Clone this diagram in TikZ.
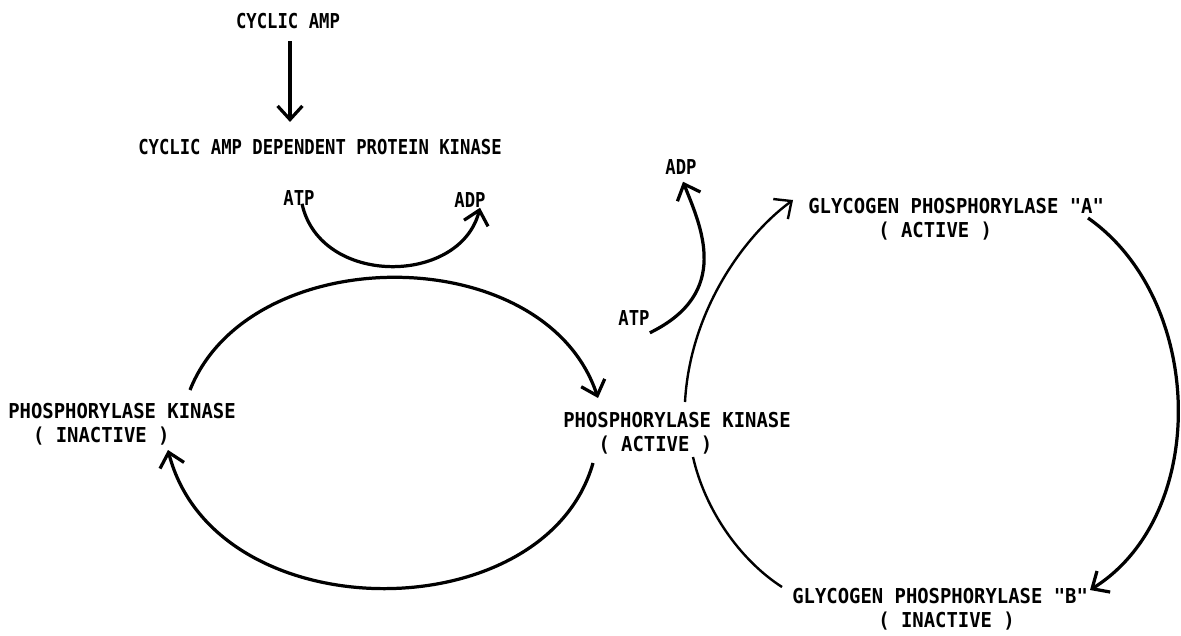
\documentclass[tikz,border=0pt]{standalone}
\usepackage{fontspec}
\setmonofont[FakeStretch=0.92]{DejaVu Sans Mono}
\newfontfamily\narrowfont[FakeStretch=0.84]{DejaVu Sans Mono}
\usetikzlibrary{arrows.meta,calc}

\begin{document}
\begin{tikzpicture}[x=0.025cm,y=-0.025cm,
    lbl/.style={font=\ttfamily\bfseries\fontsize{14.6}{17}\selectfont, inner sep=0pt},
    narrowlbl/.style={lbl, font=\narrowfont\bfseries\fontsize{14.6}{17}\selectfont},
    twolbl/.style={lbl, align=left, anchor=north west},
    arr/.style={line width=2.3pt, -{Straight Barb[length=3.4mm,width=6.2mm]}},
    thinarr/.style={arr, line width=1.7pt},
    cyc/.style={line width=1.7pt}]
    \useasboundingbox (0,0) rectangle (1181,636);

    % Labels
    \node[narrowlbl] (camp) at (288,21) {CYCLIC AMP};
    \node[narrowlbl, anchor=west] (campk) at (138,147) {CYCLIC AMP DEPENDENT PROTEIN KINASE};
    \node[narrowlbl] (atpa) at (299,198) {ATP};
    \node[narrowlbl] (adpa) at (470,200) {ADP};
    \node[narrowlbl] (atpb) at (634,318) {ATP};
    \node[narrowlbl] (adpb) at (681,167) {ADP};
    \node[twolbl] (pki) at (8,403) {PHOSPHORYLASE KINASE\\\hspace*{0.62cm}( INACTIVE )};
    \node[twolbl] (pka) at (563,412) {PHOSPHORYLASE KINASE\\\hspace*{0.88cm}( ACTIVE )};
    \node[twolbl] (gpa) at (808,198) {GLYCOGEN PHOSPHORYLASE "A"\\\hspace*{1.75cm}( ACTIVE )};
    \node[twolbl] (gpb) at (792,588) {GLYCOGEN PHOSPHORYLASE "B"\\\hspace*{2.15cm}( INACTIVE )};

    % Cyclic AMP to the protein kinase
    \draw[arr] ($(camp.south)+(2,12)$) -- ($(camp.south |- campk.north)+(2,-17)$);

    % ATP -> ADP under the protein kinase
    \draw[arr] ($(atpa.south)+(3,-2)$) .. controls +(18,83) and +(-20,78) .. ($(adpa.south)+(10,0)$);

    % Inactive <-> active phosphorylase kinase
    \draw[arr] ($(pki.north west)+(182,-13)$) .. controls +(60,-151) and +(-53,-159) .. ($(pka.north west)+(35,-14)$);
    \draw[arr] ($(pka.north west)+(30,51)$) .. controls +(-48,169) and +(47,182) .. ($(pki.north west)+(160,47)$);

    % ATP -> ADP beside the active kinase
    \draw[arr] ($(atpb.south east)+(0,7)$) .. controls +(82,-40) and +(18,45) .. ($(adpb.south)+(2,7)$);

    % Glycogen phosphorylase cycle
    \draw[thinarr] ($(pka.north west)+(122,-10)$) .. controls +(5,-92) and +(-48,35) .. ($(gpa.north west)+(-15,2)$);
    \draw[arr] ($(gpa.north west)+(280,20)$) .. controls +(117,82) and +(120,-75) .. ($(gpb.north west)+(298,2)$);
    \draw[cyc] ($(pka.north west)+(130,45)$) .. controls +(12,53) and +(-42,-27) .. ($(gpb.north west)+(-10,-1)$);
\end{tikzpicture}
\end{document}
